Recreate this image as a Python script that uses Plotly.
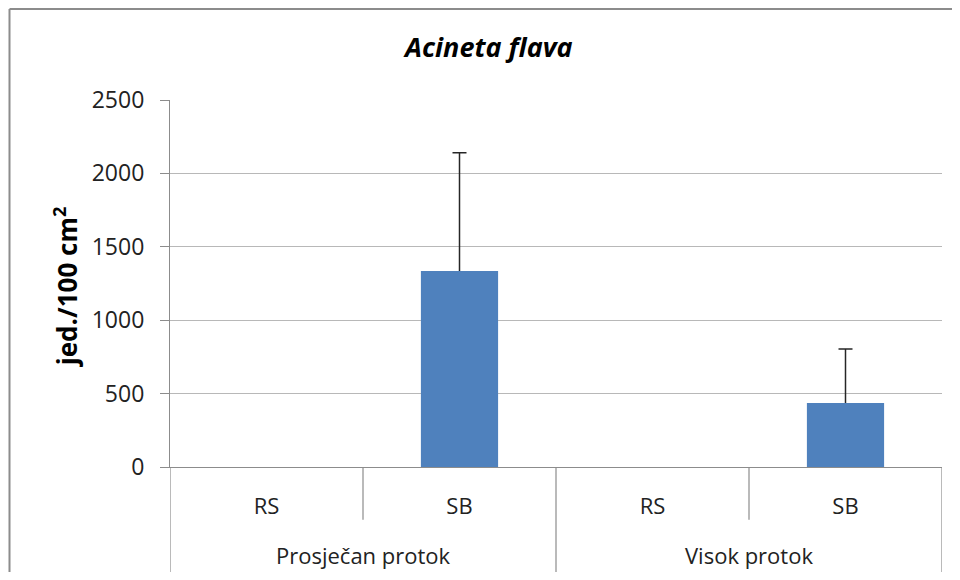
import plotly.graph_objects as go

# Data
groups = ["Prosječan protok", "Visok protok"]
sites = ["RS", "SB", "RS", "SB"]
keys = ["Prosječan protok|RS", "Prosječan protok|SB", "Visok protok|RS", "Visok protok|SB"]
values = [0, 1335, 0, 436]
errors_plus = [None, 805, None, 368]
y_ticks = [0, 500, 1000, 1500, 2000, 2500]

FONT = "Open Sans"
AX = "#8c8c8c"
GRID = "#b8b8b8"
ERR = "#262626"

fig = go.Figure()
fig.add_trace(go.Bar(
    x=keys, y=values, width=0.4,
    marker=dict(color="#4F81BD", line=dict(width=0)),
    showlegend=False, hoverinfo="y",
))

# error bars (plus only): stem without lower cap + cap at top
ex = [k for k, e in zip(keys, errors_plus) if e is not None]
ev = [v for v, e in zip(values, errors_plus) if e is not None]
ee = [e for e in errors_plus if e is not None]
fig.add_trace(go.Scatter(
    x=ex, y=ev, mode="markers", marker=dict(size=1, opacity=0),
    error_y=dict(type="data", symmetric=False, array=ee, arrayminus=[0] * len(ee),
                 color=ERR, thickness=1.5, width=0),
    showlegend=False, hoverinfo="skip",
))
fig.add_trace(go.Scatter(
    x=ex, y=[v + e for v, e in zip(ev, ee)], mode="markers",
    marker=dict(size=1, opacity=0),
    error_y=dict(type="data", array=[0] * len(ee), color=ERR, thickness=1.5, width=7),
    showlegend=False, hoverinfo="skip",
))

shapes = []
# separators below the axis
for i in range(len(keys) + 1):
    xv = i - 0.5
    outer = (i % 2 == 0)
    shapes.append(dict(type="line", xref="x", yref="paper", x0=xv, x1=xv,
                       y0=0, y1=-0.286 if outer else -0.144,
                       line=dict(color=AX, width=1.2)))
# outer chart border (left and top edges visible)
shapes.append(dict(type="line", xref="paper", yref="paper",
                   x0=-0.2079, x1=-0.2079, y0=-0.5, y1=1.248,
                   line=dict(color="#8c8c8c", width=2)))
shapes.append(dict(type="line", xref="paper", yref="paper",
                   x0=-0.2079, x1=1.1, y0=1.248, y1=1.248,
                   line=dict(color="#8c8c8c", width=2)))

annotations = []
for gi, g in enumerate(groups):
    annotations.append(dict(text=g, xref="x", yref="paper", x=gi * 2 + 0.5,
                            y=-0.240, showarrow=False, yanchor="middle",
                            font=dict(family=FONT, size=22, color="#222")))
annotations.append(dict(text="<b>jed./100 cm<sup>2</sup></b>", xref="paper", yref="paper",
                        x=-0.1347, y=0.49, textangle=-90, showarrow=False,
                        xanchor="center", yanchor="middle",
                        font=dict(family=FONT, size=26, color="#000")))

fig.update_layout(
    width=944, height=564,
    margin=dict(l=162, r=10, t=92, b=105),
    paper_bgcolor="white", plot_bgcolor="white",
    title=dict(text="<b><i>Acineta flava</i></b>", x=0.413, xref="paper",
               y=1 - 40 / 564, yref="container", xanchor="center", yanchor="middle",
               font=dict(family=FONT, size=27, color="#000")),
    xaxis=dict(type="category", categoryorder="array", categoryarray=keys,
               tickmode="array", tickvals=keys, ticktext=sites,
               range=[-0.5, 3.5], showline=True, linecolor=AX, linewidth=1.2,
               ticks="", showgrid=False, ticklabelstandoff=19,
               tickfont=dict(family=FONT, size=22, color="#222")),
    yaxis=dict(range=[0, 2500], tickmode="array", tickvals=y_ticks,
               showline=True, linecolor=AX, linewidth=1.2,
               ticks="outside", ticklen=9, tickcolor=AX, tickwidth=1.2,
               showgrid=True, gridcolor=GRID, gridwidth=1.2, zeroline=False,
               ticklabelstandoff=11,
               tickfont=dict(family=FONT, size=23, color="#222")),
    shapes=shapes, annotations=annotations,
    bargap=0.6,
)

fig.write_html("out.html")
